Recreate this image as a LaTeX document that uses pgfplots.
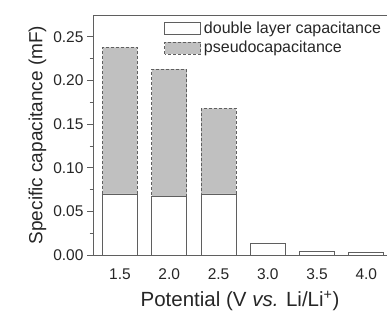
\documentclass[border=0pt]{standalone}
\usepackage{pgfplots}
\pgfplotsset{compat=1.18}
\usepackage{fontspec}
\setmainfont{Liberation Sans}
\definecolor{pseudo}{RGB}{192,192,192}
\definecolor{edge}{RGB}{95,95,95}
\begin{document}
\begin{tikzpicture}
\begin{axis}[
  scale only axis,
  width=294pt, height=240pt,
  xmin=1.226, xmax=4.21,
  ymin=0, ymax=0.275,
  ybar stacked,
  bar width=0.355,
  axis x line*=bottom,
  axis y line*=left,
  axis line style={-, edge, line width=0.8pt},
  xtick={1.5,2.0,2.5,3.0,3.5,4.0},
  xticklabels={1.5,2.0,2.5,3.0,3.5,4.0},
  xtick style={draw=none},
  xticklabel style={yshift=-4pt},
  ytick={0,0.05,0.10,0.15,0.20,0.25},
  yticklabels={0.00,0.05,0.10,0.15,0.20,0.25},
  minor ytick={0.025,0.075,0.125,0.175,0.225},
  ytick style={edge, line width=0.8pt},
  tick align=outside,
  major tick length=6pt,
  minor tick length=3.5pt,
  tick label style={font=\fontsize{15.5}{15.5}\selectfont, text=black!85},
  /pgf/number format/assume math mode=true,
  ylabel={Specific capacitance (mF)},
  ylabel style={font=\fontsize{19}{19}\selectfont, text=black!85},
  xlabel={Potential (V \textit{vs.} Li/Li\textsuperscript{+})},
  xlabel style={font=\fontsize{20.5}{20.5}\selectfont, text=black!85, yshift=-4.5pt},
  legend style={draw=none, fill=none, at={(0.238,0.985)}, anchor=north west,
    font=\fontsize{16}{16}\selectfont, text=black!85,
    row sep=2.5pt, inner sep=1pt,
    nodes={inner xsep=3pt}},
  legend cell align=left,
  legend image code/.code={\draw[#1] (0pt,-6pt) rectangle (36pt,6pt);},
]
\addplot[fill=white, draw=edge, line width=0.8pt] coordinates
  {(1.5,0.070) (2.0,0.067) (2.5,0.070) (3.0,0.013) (3.5,0.004) (4.0,0.003)};
\addplot[fill=pseudo, draw=edge, densely dashed, line width=0.8pt] coordinates
  {(1.5,0.168) (2.0,0.146) (2.5,0.098) (3.0,0) (3.5,0) (4.0,0)};
\legend{double layer capacitance, pseudocapacitance}
\draw[edge, line width=0.8pt] (rel axis cs:0,1) -- (rel axis cs:1,1);
\end{axis}
\pgfresetboundingbox
\path (current axis.south west) ++(-93pt,-56pt) rectangle ++(387pt,311pt);
\end{tikzpicture}
\end{document}
